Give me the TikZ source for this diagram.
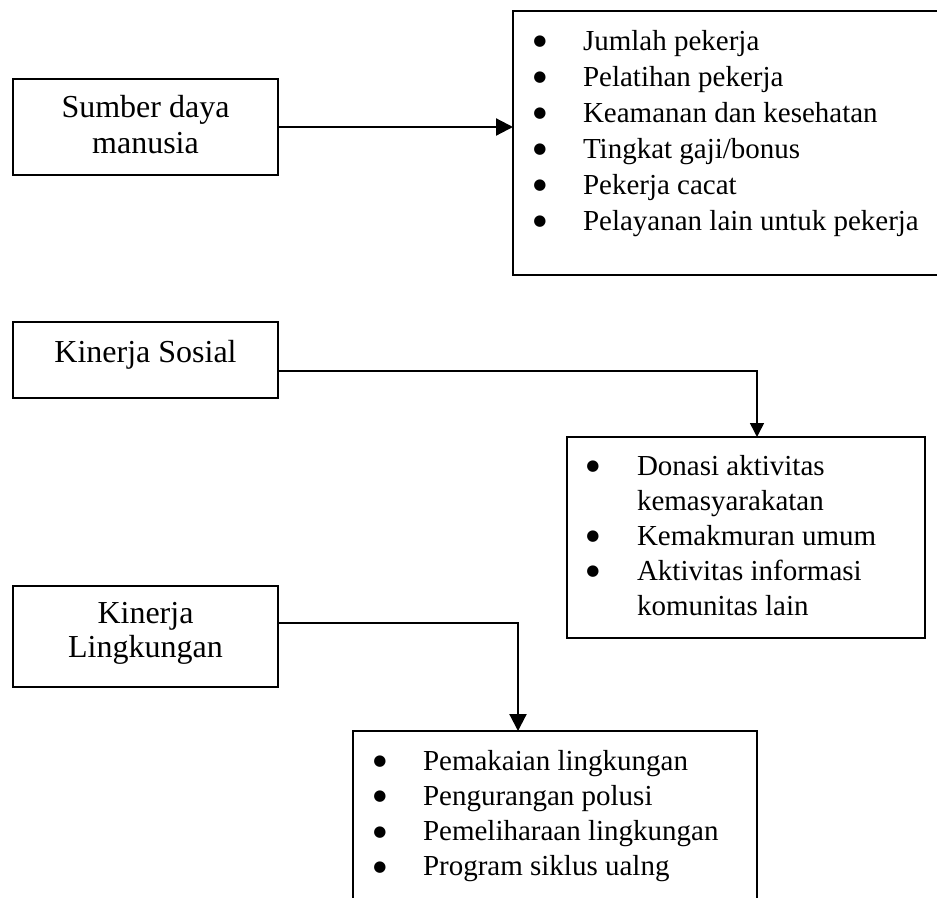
\documentclass[tikz,border=0pt]{standalone}
\usepackage{fontspec}
\setmainfont{Liberation Serif}
\newfontfamily\dejavu{DejaVu Sans}
\usetikzlibrary{arrows.meta}
\newcommand{\bul}{\makebox[0pt]{\raisebox{4.5pt}{\dejavu\fontsize{15}{15}\selectfont ●}}}
\tikzset{
  boxnode/.style={draw, line width=1.6pt, inner sep=0pt, outer sep=0pt},
  lbl/.style={anchor=base, inner sep=0pt, outer sep=0pt},
  listtxt/.style={anchor=base west, inner sep=0pt, outer sep=0pt},
  thickarrow/.style={line width=2.2pt, -{Triangle[length=17pt,width=17pt]}},
  thinarrow/.style={line width=1.5pt, -{Triangle[length=14pt,width=14pt]}},
}
\begin{document}
\begin{tikzpicture}[x=1pt,y=-1pt]
\useasboundingbox (0,0) rectangle (937,897);
\clip (0,0) rectangle (937,897);
\fill[white] (0,0) rectangle (937,897);

% left boxes
\node[boxnode, minimum width=265pt, minimum height=96pt] (sumber) at (145.5,127) {};
\node[boxnode, minimum width=265pt, minimum height=76pt] (sosial) at (145.5,360) {};
\node[boxnode, minimum width=265pt, minimum height=101pt] (ling) at (145.5,636.5) {};

\node[lbl] (sumbertxt) at (145.5,117) {\fontsize{32}{36}\selectfont\begin{tabular}[t]{@{}c@{}}Sumber daya\\manusia\end{tabular}};
\node[lbl] (sosialtxt) at (145.5,362) {\fontsize{32}{36}\selectfont Kinerja Sosial};
\node[lbl] (lingtxt) at (145.5,623) {\fontsize{32}{34}\selectfont\begin{tabular}[t]{@{}c@{}}Kinerja\\Lingkungan\end{tabular}};

% list boxes
\node[boxnode, minimum width=442pt, minimum height=264pt] (list1) at (734,143) {};
\node[boxnode, minimum width=358pt, minimum height=201pt] (list2) at (746,537.5) {};
\node[boxnode, minimum width=404pt, minimum height=184pt] (list3) at (555,823) {};

\node[listtxt] (list1txt) at (540,50) {\fontsize{29}{36}\selectfont
\begin{tabular}[t]{@{}l@{\hspace{43pt}}l@{}}
\bul & Jumlah pekerja\\
\bul & Pelatihan pekerja\\
\bul & Keamanan dan kesehatan\\
\bul & Tingkat gaji/bonus\\
\bul & Pekerja cacat\\
\bul & Pelayanan lain untuk pekerja
\end{tabular}};

\node[listtxt] (list2txt) at (593,475) {\fontsize{29}{35}\selectfont
\begin{tabular}[t]{@{}l@{\hspace{44pt}}l@{}}
\bul & Donasi aktivitas\\
 & kemasyarakatan\\
\bul & Kemakmuran umum\\
\bul & Aktivitas informasi\\
 & komunitas lain
\end{tabular}};

\node[listtxt] (list3txt) at (380,770) {\fontsize{29}{35.3}\selectfont
\begin{tabular}[t]{@{}l@{\hspace{43pt}}l@{}}
\bul & Pemakaian lingkungan\\
\bul & Pengurangan polusi\\
\bul & Pemeliharaan lingkungan\\
\bul & Program siklus ualng
\end{tabular}};

% connectors
\draw[thickarrow] (sumber.east) -- (list1.west |- sumber.east);

\coordinate (c2) at (757,371);
\draw[thinarrow] (sosial.east |- c2) -- (c2) -- (c2 |- list2.north);

\coordinate (c3) at (518,623);
\draw[thickarrow] (ling.east |- c3) -- (c3) -- (c3 |- list3.north);
\end{tikzpicture}
\end{document}
